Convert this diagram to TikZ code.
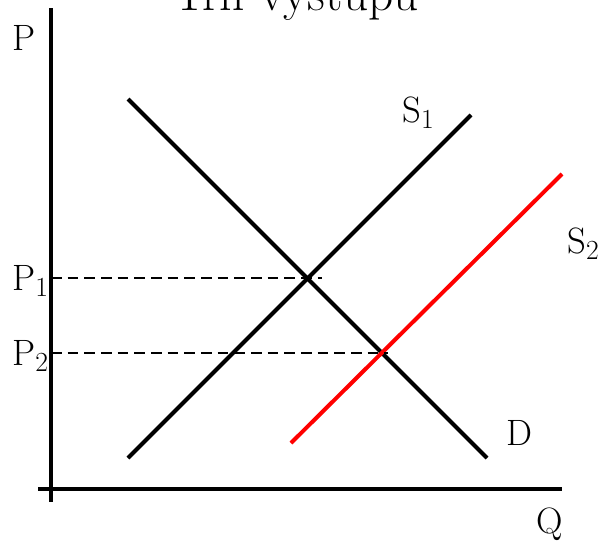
\documentclass[tikz,border=0pt]{standalone}
\usepackage{fontspec}
\begin{document}
\begin{tikzpicture}[x=0.75pt,y=-0.75pt,
  axis/.style={line width=2.4pt},
  curve/.style={line width=3pt},
  guide/.style={line width=1.5pt,dash pattern=on 8pt off 4.5pt},
  lab/.style={font=\fontsize{27.5}{30}\selectfont,anchor=base west,inner sep=0pt}]
\useasboundingbox (0,0) rectangle (605,540);
% axes
\coordinate (ytop) at (51,8);
\coordinate (ybot) at (51,502);
\coordinate (xl) at (38,489);
\coordinate (xr) at (562,489);
\draw[axis] (ytop) -- (ybot);
\draw[axis] (xl) -- (xr);
% curves
\coordinate (d1) at (128,99);
\coordinate (d2) at (487,458);
\coordinate (s1a) at (128,458);
\coordinate (s1b) at (471,115);
\coordinate (s2a) at (291,443);
\coordinate (s2b) at (562,174);
\draw[curve] (d1) -- (d2);
\draw[curve] (s1a) -- (s1b);
\draw[curve,red] (s2a) -- (s2b);
% guides
\coordinate (p1a) at (51,278);
\coordinate (p1b) at (322,278);
\coordinate (p2a) at (51,353);
\coordinate (p2b) at (388,353);
\draw[guide] (p1a) -- (p1b);
\draw[guide] (p2a) -- (p2b);
% labels
\node[font=\fontsize{37}{40}\selectfont,anchor=base,inner sep=0pt] (title) at (296,10) {Trh výstupu};
\node[lab] (lP) at (12,50) {P};
\node[lab] (lP1) at (12,290) {P$_{1}$};
\node[lab] (lP2) at (12,365) {P$_{2}$};
\node[lab] (lS1) at (402,122) {S$_{1}$};
\node[lab] (lS2) at (567,253) {S$_{2}$};
\node[lab] (lD) at (506,445) {D};
\node[lab] (lQ) at (536,533) {Q};
\end{tikzpicture}
\end{document}
